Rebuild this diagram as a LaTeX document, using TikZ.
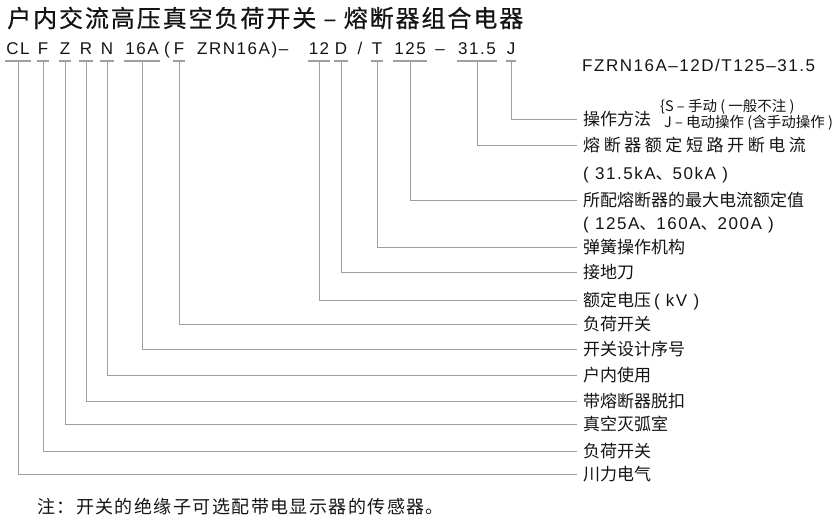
\documentclass[tikz,border=0pt]{standalone}
\usepackage{fontspec}
\setmainfont{Noto Sans CJK SC}
\newfontfamily\latin[LetterSpace=9]{Liberation Sans}
\usetikzlibrary{positioning}
\definecolor{leadgray}{RGB}{158,158,158}
\colorlet{inkblack}{black!92}

\begin{document}
\begin{tikzpicture}[
    x=1pt, y=1pt,
    code/.style={anchor=south, inner xsep=1pt, inner ysep=6pt, text height=12pt, text depth=0pt,
                 text=inkblack, font=\fontsize{17}{17}\selectfont\latin},
    uline/.style={draw=leadgray, line width=1.5pt},
    lead/.style={draw=leadgray, line width=0.9pt},
    item/.style={anchor=west, inner xsep=6pt, inner ysep=0pt, text height=15pt, text depth=2pt,
                 text=inkblack, font=\fontsize{17}{17}\selectfont},
    note/.style={anchor=west, inner sep=0pt, text=inkblack, font=\fontsize{14.5}{14.5}\selectfont},
]
\useasboundingbox (0,0) rectangle (835,-522);

% Title
\node[anchor=west, inner sep=0pt, text=inkblack,
      font=\fontsize{24}{24}\selectfont\addfontfeature{LetterSpace=8,FakeBold=0.6}] (title) at (7,-18)
      {户内交流高压真空负荷开关 – 熔断器组合电器};

% Type code, one node per underlined part
\node[code] (cl)   at (18,-61)  {CL};
\node[code] (f1)   at (43,-61)  {F};
\node[code] (z)    at (65,-61)  {Z};
\node[code] (r)    at (86,-61)  {R};
\node[code] (n)    at (107,-61) {N};
\node[code] (s16a) at (142,-61) {16A};
\node[code] (lpar) at (167,-61) {(};
\node[code] (f2)   at (179,-61) {F};
\node[code, anchor=south west] (rest) at (196,-61) {ZRN16A)–};
\node[code] (v12)  at (319,-61) {12};
\node[code] (d)    at (341,-61) {D};
\node[code] (sl)   at (360,-61) {/};
\node[code] (t)    at (377,-61) {T};
\node[code] (a125) at (410,-61) {125};
\node[code] (dash) at (440,-61) {–};
\node[code] (k315) at (477,-61) {31.5};
\node[code] (j)    at (511,-61) {J};

% Underlines
\draw[uline] (cl.south west)   -- (cl.south east);
\draw[uline] (f1.south west)   -- (f1.south east);
\draw[uline] (z.south west)    -- (z.south east);
\draw[uline] (r.south west)    -- (r.south east);
\draw[uline] (n.south west)    -- (n.south east);
\draw[uline] (s16a.south west) -- (s16a.south east);
\draw[uline] (f2.south west)   -- (f2.south east);
\draw[uline] (v12.south west)  -- (v12.south east);
\draw[uline] (d.south west)    -- (d.south east);
\draw[uline] (t.south west)    -- (t.south east);
\draw[uline] (a125.south west) -- (a125.south east);
\draw[uline] (k315.south west) -- (k315.south east);
\draw[uline] (j.south west)    -- (j.south east);

% Full model name
\node[item] (model) at (576,-65) {\latin FZRN16A–12D/T125–31.5};

% Meaning of each part
\node[item] (l-j)    at (577,-119) {操作方法};
\node[note] (opS)    at (660,-107) {\{S – 手动 ( 一般不注 )};
\node[note] (opJ)    at (664,-123) {J – 电动操作 (含手动操作 )};
\node[item] (l-k315) at (577,-145) {\addfontfeature{LetterSpace=21}熔断器额定短路开断电流};
\node[item] (l-k315b) at (577,-173) {{\latin( 31.5kA}、{\latin 50kA )}};
\node[item] (l-a125) at (577,-200) {所配熔断器的最大电流额定值};
\node[item] (l-a125b) at (577,-223) {{\latin( 125A}、{\latin 160A}、{\latin 200A )}};
\node[item] (l-t)    at (577,-247) {弹簧操作机构};
\node[item] (l-d)    at (577,-272) {接地刀};
\node[item] (l-v12)  at (577,-300) {额定电压\,{\latin( kV )}};
\node[item] (l-f2)   at (577,-324) {负荷开关};
\node[item] (l-s16a) at (577,-349) {开关设计序号};
\node[item] (l-n)    at (577,-375) {户内使用};
\node[item] (l-r)    at (577,-401) {带熔断器脱扣};
\node[item] (l-z)    at (577,-424) {真空灭弧室};
\node[item] (l-f1)   at (577,-451) {负荷开关};
\node[item] (l-cl)   at (577,-474) {川力电气};

% Leaders from the code down and across
\draw[lead] (j.south)    |- (l-j.west);
\draw[lead] (k315.south) |- (l-k315.west);
\draw[lead] (a125.south) |- (l-a125.west);
\draw[lead] (t.south)    |- (l-t.west);
\draw[lead] (d.south)    |- (l-d.west);
\draw[lead] (v12.south)  |- (l-v12.west);
\draw[lead] (f2.south)   |- (l-f2.west);
\draw[lead] (s16a.south) |- (l-s16a.west);
\draw[lead] (n.south)    |- (l-n.west);
\draw[lead] (r.south)    |- (l-r.west);
\draw[lead] (z.south)    |- (l-z.west);
\draw[lead] (f1.south)   |- (l-f1.west);
\draw[lead] (cl.south)   |- (l-cl.west);

% Footnote
\node[anchor=west, inner sep=0pt, text=inkblack,
      font=\fontsize{18}{18}\selectfont\addfontfeature{LetterSpace=8}] (foot) at (37,-507)
      {注：开关的绝缘子可选配带电显示器的传感器。};

\end{tikzpicture}
\end{document}
